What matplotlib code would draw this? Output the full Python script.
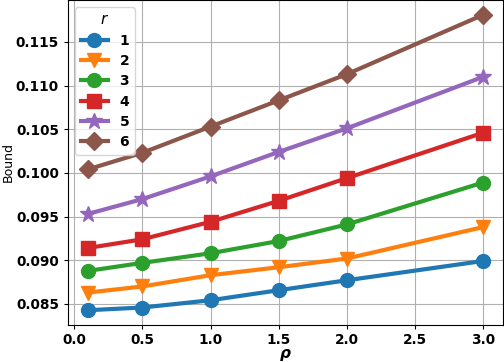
import matplotlib
matplotlib.use("Agg")
import matplotlib.pyplot as plt

# data
rho = [0.1, 0.5, 1.0, 1.5, 2.0, 3.0]
r_values = ["1", "2", "3", "4", "5", "6"]
bound_r1 = [0.08428, 0.08459, 0.08542, 0.08657, 0.08771, 0.08992]
bound_r2 = [0.0863, 0.0870, 0.08829, 0.0892, 0.0902, 0.0938]
bound_r3 = [0.08878, 0.0897, 0.0908, 0.0922, 0.0941, 0.0989]
bound_r4 = [0.0914, 0.0924, 0.0944, 0.0968, 0.0994, 0.1046]
bound_r5 = [0.0953, 0.0970, 0.0996, 0.1024, 0.1051, 0.1110]
bound_r6 = [0.1004, 0.1023, 0.1053, 0.1083, 0.1113, 0.1181]

series = [bound_r1, bound_r2, bound_r3, bound_r4, bound_r5, bound_r6]
markers = ["o", "v", "o", "s", "*", "D"]
colors = ["#1f77b4", "#ff7f0e", "#2ca02c", "#d62728", "#9467bd", "#8c564b"]

fig = plt.figure(figsize=(5.04, 3.62), dpi=100)
ax = fig.add_axes([68 / 504, 37 / 362, 435 / 504, 325 / 362])

for vals, lab, m, c in zip(series, r_values, markers, colors):
    ms = 10
    if m == "*":
        ms = 12
    if m == "D":
        ms = 9
    ax.plot(rho, vals, marker=m, color=c, linewidth=3, markersize=ms, label=lab)

ax.grid(True, color="#b0b0b0", linewidth=0.8)
ax.tick_params(axis="x", length=3, pad=2.5)
ax.tick_params(axis="y", length=3, pad=3.5)
ax.set_xlabel(r"$\boldsymbol{\rho}$", fontsize=11, labelpad=0)
ax.set_ylabel("Bound", fontsize=9)
ax.yaxis.set_label_coords(-0.122, 0.5)

for lbl in ax.get_xticklabels() + ax.get_yticklabels():
    lbl.set_fontweight("bold")
    lbl.set_fontsize(9.8)

leg = ax.legend(title=r"$r$", loc="upper left", prop={"weight": "bold", "size": 10},
                title_fontsize=11, borderaxespad=0.5, labelspacing=0.45)

fig.savefig("out.png", dpi=100)
